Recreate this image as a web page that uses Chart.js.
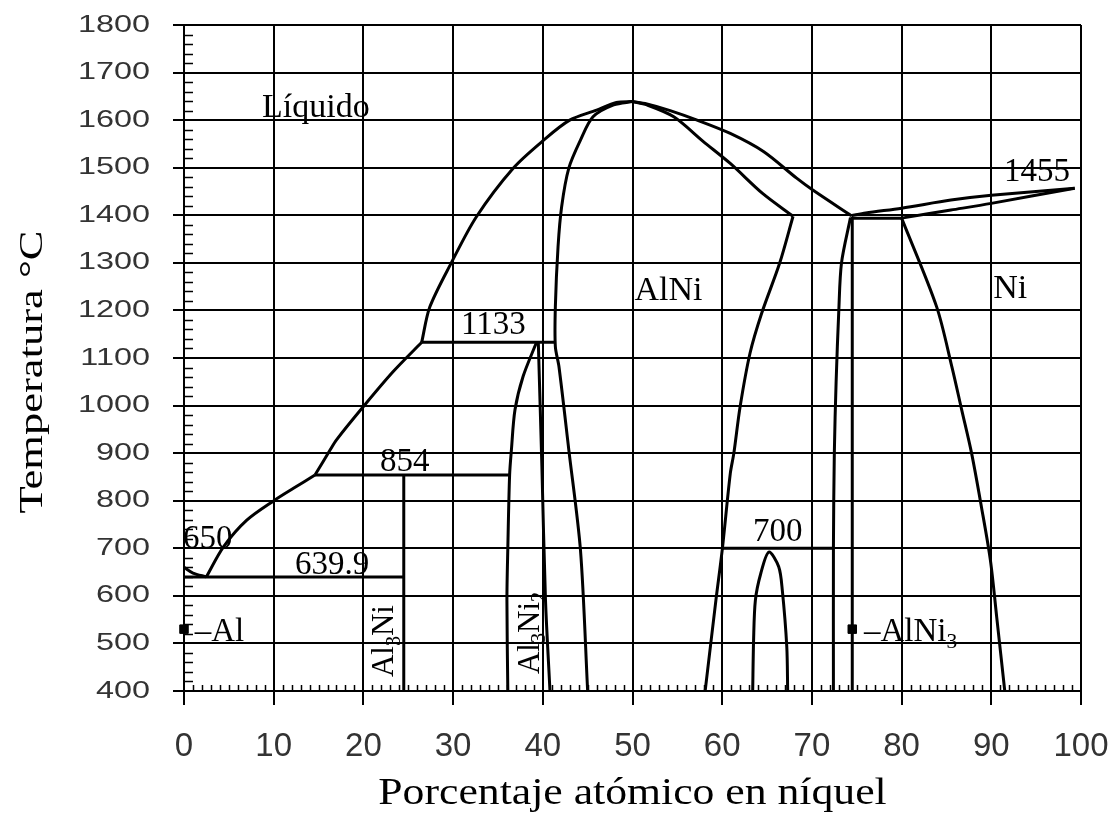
<!DOCTYPE html>
<html>
<head>
<meta charset="utf-8">
<script src="https://cdn.jsdelivr.net/npm/chart.js@4.4.1/dist/chart.umd.min.js"></script>
<style>
  body { margin: 0; background: #fff; }
  #wrap { width: 1118px; height: 816px; position: relative; }
</style>
</head>
<body>
<div id="wrap"><canvas id="myChart"></canvas></div>
<script>
// Al-Ni phase diagram, points are [at% Ni, temperature °C]
// each list is one smooth stretch of a boundary (split at the corners)
var liquidusAlEnd = [[0,660],[1,648],[2.5,640]];
var liquidusLow = [[2.5,640],[4.4,703],[7,759],[10.1,801],[12.2,826],[14.6,854]];
var liquidusMid = [[14.6,854],[16.3,907],[17,928],[20,998],[23.3,1071],[26.5,1133]];
var liquidusHigh = [[26.5,1133],[27.4,1207],[29.8,1300],[32.6,1397],[36.7,1499],[40.1,1558],
  [43,1600],[46,1621],[48.2,1637],[50,1639]];
var liquidusNiSide = [[50,1639],[51.6,1634],[54.2,1620],[57.2,1600],[60.9,1572],[64.6,1534],
  [68.3,1478],[70.1,1453],[74.4,1399]];
var liquidusNi = [[74.4,1399],[76,1405],[80,1415],[85.5,1432],[90,1442],[99.3,1457]];
var solidusNi = [[80,1394],[85.5,1411],[90,1425],[99.3,1457]];
var alniLeft = [[50,1639],[47.9,1632],[45.6,1607],[44.2,1558],[42.9,1499],[42.1,1418],[41.7,1334],
  [41.4,1208],[41.4,1124],[41.8,1082],[42.9,907],[44.2,696],[45,400]];
var alniSolidus = [[50,1639],[51.6,1632],[54.6,1607],[57.9,1555],[60.9,1509],[64.5,1446],[67.9,1398]];
var alniSolvus = [[67.9,1398],[66.4,1299],[64.4,1194],[63.1,1110],[62,998],[61.3,900],[60.9,857],
  [60,696],[59.3,591],[58.1,400]];
var al3ni2Left = [[39.3,1133],[37.8,1061],[36.9,991],[36.5,907],[36.3,854],[36.1,700],[36,591],[36.1,400]];
var al3ni2Right = [[39.5,1133],[39.9,871],[40.3,591],[40.8,400]];
var al3ni5Dome = [[63.4,400],[63.5,507],[63.7,591],[64.3,647],[65.2,692],[66.3,661],[66.7,612],[67.2,493],[67.3,400]];
var alni3Left = [[74.3,1395],[73.3,1300],[73,1200],[72.7,1050],[72.5,900],[72.4,700],[72.4,400]];
var alni3Right = [[74.5,1395],[74.5,400]];
var niSolvus = [[80,1394],[83.9,1208],[85.6,1082],[86.7,991],[87.8,900],[88.9,787],[89.9,675],[90.6,556],[91.5,400]];
var al3niLine = [[24.5,854],[24.5,400]];

// invariant reactions: temperature and composition span
var isoTemps = [639.9, 854, 1133, 700, 1394];
var isoFrom  = [0, 14.6, 26.5, 60, 74.3];
var isoTo    = [24.5, 36.3, 41.4, 72.4, 80];

// pure element / compound markers
var markerX = [0, 74.5];
var markerY = [530, 530];

var boundaries = [liquidusAlEnd, liquidusLow, liquidusMid, liquidusHigh, liquidusNiSide, liquidusNi,
  solidusNi, alniLeft, alniSolidus, alniSolvus, al3ni2Left, al3ni2Right, al3ni5Dome, alni3Left,
  alni3Right, niSolvus, al3niLine];

function lineSet (pts, tension) {
  return {
    data: pts.map(function (p) { return { x: p[0], y: p[1] }; }),
    showLine: true,
    borderColor: '#000',
    borderWidth: 3,
    pointRadius: 0,
    fill: false,
    tension: tension
  };
}

var datasets = boundaries.map(function (b) { return lineSet(b, 0.3); });
isoTemps.forEach(function (t, i) {
  datasets.push(lineSet([[isoFrom[i], t], [isoTo[i], t]], 0));
});
datasets.push({
  data: markerX.map(function (x, i) { return { x: x, y: markerY[i] }; }),
  showLine: false,
  clip: false,
  pointStyle: 'rect',
  pointRadius: 6,
  backgroundColor: '#000',
  borderColor: '#000'
});

// text on the diagram: parts, data position, alignment, rotation
var notes = [
  { parts: [['Líquido']], x: 14.7, y: 1630, size: 34 },
  { parts: [['AlNi']], x: 54, y: 1245, size: 34 },
  { parts: [['Ni']], x: 92.1, y: 1249, size: 34 },
  { parts: [[String(isoTemps[2])]], x: 34.5, y: 1174, size: 33 },
  { parts: [[String(isoTemps[1])]], x: 24.6, y: 886, size: 33 },
  { parts: [[String(isoTemps[0])]], x: 16.5, y: 669, size: 33 },
  { parts: [['650']], x: 2.65, y: 724, size: 33 },
  { parts: [[String(isoTemps[3])]], x: 66.2, y: 738, size: 33 },
  { parts: [['1455']], x: 95.1, y: 1495, size: 33 },
  { parts: [['\u2013Al']], x: 1.2, y: 528, size: 33, align: 'left' },
  { parts: [['\u2013AlNi'], ['3', 1]], x: 75.8, y: 528, size: 33, align: 'left' },
  { parts: [['Al'], ['3', 1], ['Ni']], x: 22.2, y: 505, size: 31, rot: -Math.PI / 2 },
  { parts: [['Al'], ['3', 1], ['Ni'], ['2', 1]], x: 38.4, y: 522, size: 31, rot: -Math.PI / 2 }
];

function richText (ctx, parts, size, px, py, align, rot) {
  ctx.save();
  ctx.translate(px, py);
  if (rot) ctx.rotate(rot);
  ctx.textAlign = 'left';
  ctx.textBaseline = 'alphabetic';
  ctx.fillStyle = '#000';
  var w = 0;
  var widths = parts.map(function (p) {
    ctx.font = (p[1] ? size * 0.65 : size) + 'px "Liberation Serif"';
    var m = ctx.measureText(p[0]).width;
    w += m;
    return m;
  });
  var x = align === 'left' ? 0 : -w / 2;
  parts.forEach(function (p, i) {
    ctx.font = (p[1] ? size * 0.65 : size) + 'px "Liberation Serif"';
    ctx.fillText(p[0], x, size * 0.33 + (p[1] ? size * 0.22 : 0));
    x += widths[i];
  });
  ctx.restore();
}

var decor = {
  id: 'decor',
  afterDraw: function (chart) {
    var ctx = chart.ctx, xs = chart.scales.x, ys = chart.scales.y, a = chart.chartArea;
    ctx.save();
    ctx.strokeStyle = '#000';
    ctx.lineWidth = 1.5;
    ctx.beginPath();
    // minor ticks
    for (var v = 400; v < 1800; v += 20) {
      if (v % 100 === 0) continue;
      var py = Math.round(ys.getPixelForValue(v)) + 0.5;
      ctx.moveTo(a.left, py); ctx.lineTo(a.left + 9, py);
    }
    for (var u = 1; u < 100; u++) {
      if (u % 10 === 0) continue;
      var px = Math.round(xs.getPixelForValue(u)) + 0.5;
      ctx.moveTo(px, a.bottom); ctx.lineTo(px, a.bottom - 6);
    }
    ctx.stroke();

    // y tick labels, wide face
    ctx.font = '24px "Liberation Sans"';
    ctx.fillStyle = '#333';
    ctx.textAlign = 'right';
    ctx.textBaseline = 'middle';
    ys.ticks.forEach(function (t) {
      ctx.save();
      ctx.translate(150, ys.getPixelForValue(t.value));
      ctx.scale(1.35, 1);
      ctx.fillText(String(t.value), 0, 0);
      ctx.restore();
    });

    // axis titles
    ctx.fillStyle = '#000';
    ctx.textAlign = 'center';
    ctx.textBaseline = 'alphabetic';
    ctx.font = '38px "Liberation Serif"';
    ctx.save();
    ctx.translate((a.left + a.right) / 2, 804);
    ctx.scale(1.15, 1);
    ctx.fillText('Porcentaje atómico en níquel', 0, 0);
    ctx.restore();

    ctx.font = '33px "Liberation Serif"';
    ctx.save();
    ctx.translate(42, 372);
    ctx.rotate(-Math.PI / 2);
    ctx.scale(1.35, 1);
    ctx.fillText('Temperatura °C', 0, 0);
    ctx.restore();

    notes.forEach(function (n) {
      richText(ctx, n.parts, n.size, xs.getPixelForValue(n.x), ys.getPixelForValue(n.y), n.align, n.rot);
    });
    ctx.restore();
  }
};

var ctx = document.getElementById('myChart');
new Chart(ctx, {
  type: 'scatter',
  data: { datasets: datasets },
  options: {
    responsive: true,
    maintainAspectRatio: false,
    animation: false,
    layout: { autoPadding: false, padding: { top: 25, right: 37, left: 0, bottom: 0 } },
    plugins: { legend: { display: false }, tooltip: { enabled: false } },
    scales: {
      x: {
        type: 'linear',
        min: 0,
        max: 100,
        afterFit: function (s) { s.height = 125; s.paddingLeft = 0; s.paddingRight = 0; },
        ticks: { stepSize: 10, color: '#333', padding: 22, font: { family: 'Liberation Sans', size: 33 } },
        grid: { color: '#000', lineWidth: 2, tickLength: 14, tickColor: '#000' },
        border: { color: '#000', width: 2 }
      },
      y: {
        type: 'linear',
        min: 400,
        max: 1800,
        afterFit: function (s) { s.width = 184; s.paddingTop = 0; s.paddingBottom = 0; },
        ticks: { stepSize: 100, color: 'rgba(0,0,0,0)', font: { family: 'Liberation Sans', size: 24 } },
        grid: { color: '#000', lineWidth: 2, tickLength: 11, tickColor: '#000' },
        border: { color: '#000', width: 2 }
      }
    }
  },
  plugins: [decor]
});
</script>
</body>
</html>
